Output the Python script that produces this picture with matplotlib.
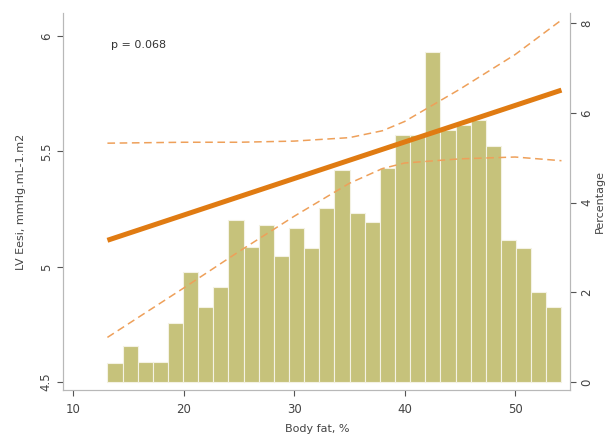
import numpy as np
import matplotlib
matplotlib.use("Agg")
import matplotlib.pyplot as plt

# histogram of body fat (percent of subjects per bin)
bin_lo, bin_hi = 13.1, 54.2
pct = [0.42, 0.80, 0.45, 0.45, 1.31, 2.45, 1.67, 2.12, 3.61, 3.01,
       3.50, 2.81, 3.43, 2.98, 3.88, 4.72, 3.76, 3.56, 4.77, 5.50,
       5.50, 7.35, 5.61, 5.72, 5.84, 5.26, 3.16, 2.98, 2.00, 1.67]

# fitted line and 95% CI
fit_x = [13.1, 54.2]
fit_y = [5.115, 5.766]
ci_x = [13.1, 20, 25, 30, 35, 38, 40, 45, 50, 54.2]
ci_hi = [5.536, 5.54, 5.54, 5.545, 5.56, 5.59, 5.63, 5.77, 5.92, 6.07]
ci_lo = [4.694, 4.908, 5.066, 5.219, 5.362, 5.426, 5.45, 5.468, 5.476, 5.46]

p_text = "p = 0.068"

bar_col = "#c6c27b"
line_col = "#e07b12"
ci_col = "#eea05a"
grey = "#555555"
spine = "#b8b8b8"

fig = plt.figure(figsize=(6.08, 4.36), dpi=100)
ax = fig.add_axes([0.104, 0.105, 0.834, 0.865])
ax2 = ax.twinx()

edges = np.linspace(bin_lo, bin_hi, len(pct) + 1)
ax2.bar(edges[:-1], pct, width=np.diff(edges), align="edge",
        color=bar_col, edgecolor="#f4f2e4", linewidth=0.8)

ax.set_zorder(ax2.get_zorder() + 1)
ax.patch.set_visible(False)

ax.plot(fit_x, fit_y, color=line_col, lw=3.6, solid_capstyle="butt")
ax.plot(ci_x, ci_hi, color=ci_col, lw=1.1, ls=(0, (5, 3)))
ax.plot(ci_x, ci_lo, color=ci_col, lw=1.1, ls=(0, (5, 3)))

ax.text(13.4, 5.96, p_text, fontsize=8, color="#333333", va="center")

ax.set_xlim(9.1, 55.0)
ax.set_ylim(4.465, 6.10)
ax2.set_ylim(-0.18, 8.22)

ax.set_xticks([10, 20, 30, 40, 50])
ax.set_yticks([4.5, 5, 5.5, 6])
ax.set_yticklabels(["4.5", "5", "5.5", "6"], rotation=90, va="center")
ax2.set_yticks([0, 2, 4, 6, 8])
ax2.set_yticklabels(["0", "2", "4", "6", "8"], rotation=90, va="center")

for a in (ax, ax2):
    a.spines["top"].set_visible(False)
    for s in ("left", "right", "bottom"):
        a.spines[s].set_color(spine)
    a.tick_params(colors=grey, labelcolor="#444444", labelsize=8.5,
                  length=4, width=0.8)
ax.tick_params(axis="x", pad=5)
ax2.tick_params(axis="y", pad=3)

ax.set_xlabel("Body fat, %", fontsize=8, color="#444444", labelpad=6)
ax.set_ylabel("LV Eesi, mmHg.mL-1.m2", fontsize=8, color="#444444", labelpad=10)
ax2.set_ylabel("Percentage", fontsize=8, color="#444444", rotation=90, labelpad=1)

fig.savefig("out.png", dpi=100)
